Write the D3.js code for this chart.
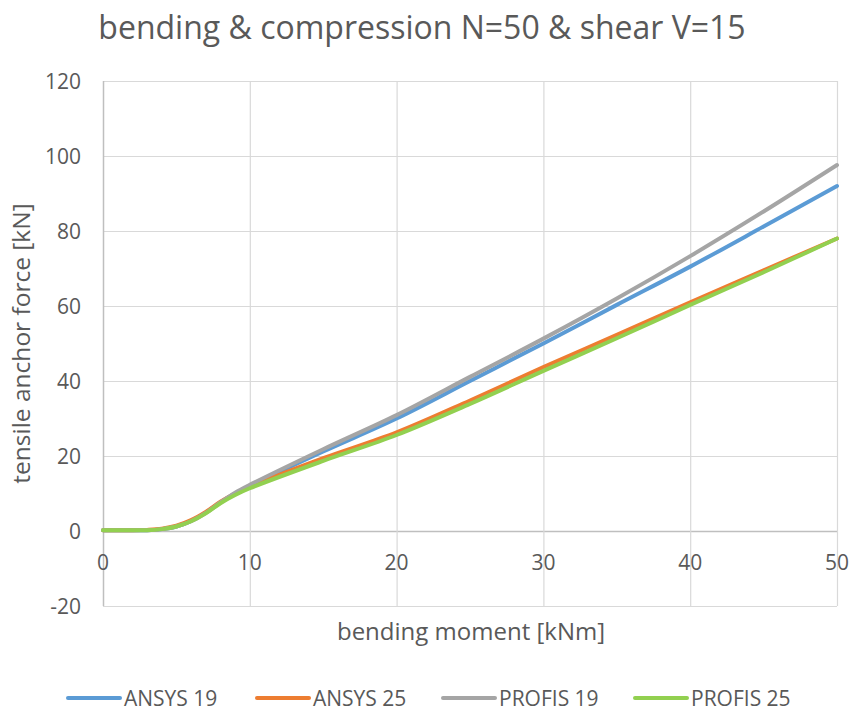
<!DOCTYPE html>
<html>
<head>
<meta charset="utf-8">
<script src="https://cdn.jsdelivr.net/npm/d3@7"></script>
<style>
  html, body { margin: 0; padding: 0; background: #fff; }
  svg { display: block; }
  text { font-family: "Open Sans", "Liberation Sans", sans-serif; fill: #595959; }
</style>
</head>
<body>
<svg id="chart" width="851" height="713"></svg>
<script>
const titleText = "bending & compression N=50 & shear V=15";
const xTitle = "bending moment [kNm]";
const yTitle = "tensile anchor force [kN]";

const moments = [0, 1, 2, 3, 4, 5, 6, 7, 8, 9, 10, 15, 20, 25, 30, 35, 40, 45, 50];
const ansys19  = [0.2, 0.2, 0.2, 0.2, 0.5, 1.2, 2.7, 4.9, 7.6, 10.0, 12.0, 21.2, 30.0, 40.0, 50.0, 60.3, 70.5, 81.2, 92.0];
const ansys25  = [0.2, 0.2, 0.2, 0.3, 0.6, 1.4, 2.9, 5.1, 7.8, 10.0, 11.8, 19.4, 26.3, 34.8, 43.7, 52.3, 61.0, 69.5, 78.0];
const profis19 = [0.2, 0.2, 0.2, 0.2, 0.5, 1.2, 2.6, 4.8, 7.6, 10.2, 12.3, 21.8, 30.9, 41.1, 51.3, 62.0, 73.3, 85.2, 97.6];
const profis25 = [0.2, 0.2, 0.2, 0.2, 0.5, 1.2, 2.6, 4.7, 7.4, 9.6, 11.4, 18.7, 25.6, 33.9, 42.7, 51.4, 60.3, 69.0, 78.0];

const seriesNames = ["ANSYS 19", "ANSYS 25", "PROFIS 19", "PROFIS 25"];
const seriesValues = [ansys19, ansys25, profis19, profis25];
const seriesColors = ["#5B9BD5", "#ED7D31", "#A5A5A5", "#92D050"];

const xTicks = [0, 10, 20, 30, 40, 50];
const yTicks = [-20, 0, 20, 40, 60, 80, 100, 120];

const svg = d3.select("#chart");
const plot = { left: 103, right: 837, top: 81, bottom: 606 };

const x = d3.scaleLinear().domain([0, 50]).range([plot.left, plot.right]);
const y = d3.scaleLinear().domain([-20, 120]).range([plot.bottom, plot.top]);

// gridlines
const g = svg.append("g");
g.selectAll(".hgrid").data(yTicks).enter().append("line")
  .attr("x1", plot.left).attr("x2", plot.right)
  .attr("y1", d => y(d) + 0.5).attr("y2", d => y(d) + 0.5)
  .attr("stroke", d => d === 0 ? "#BFBFBF" : "#D9D9D9").attr("stroke-width", d => d === 0 ? 1.5 : 1.2);
g.selectAll(".vgrid").data(xTicks).enter().append("line")
  .attr("y1", plot.top).attr("y2", plot.bottom)
  .attr("x1", d => x(d) + 0.5).attr("x2", d => x(d) + 0.5)
  .attr("stroke", d => d === 0 ? "#BFBFBF" : "#D9D9D9").attr("stroke-width", d => d === 0 ? 1.5 : 1.2);

// tick labels
g.selectAll(".ylab").data(yTicks).enter().append("text")
  .attr("x", 81).attr("y", d => y(d)).attr("dy", "0.36em")
  .attr("text-anchor", "end").attr("font-size", 21)
  .text(d => d);
g.selectAll(".xlab").data(xTicks).enter().append("text")
  .attr("x", d => x(d)).attr("y", 570)
  .attr("text-anchor", "middle").attr("font-size", 21)
  .text(d => d);

// lines
const line = d3.line().x(d => x(d[0])).y(d => y(d[1])).curve(d3.curveCatmullRom.alpha(0.5));
seriesValues.forEach((vals, i) => {
  svg.append("path")
    .datum(moments.map((m, j) => [m, vals[j]]))
    .attr("fill", "none")
    .attr("stroke", seriesColors[i])
    .attr("stroke-width", 4)
    .attr("stroke-linecap", "round")
    .attr("stroke-linejoin", "round")
    .attr("d", line);
});

// titles
svg.append("text").attr("x", 422).attr("y", 39).attr("text-anchor", "middle")
  .attr("font-size", 32).text(titleText);
svg.append("text").attr("x", 471).attr("y", 640).attr("text-anchor", "middle")
  .attr("font-size", 24).text(xTitle);
svg.append("text").attr("transform", "translate(30,343.5) rotate(-90)").attr("text-anchor", "middle")
  .attr("font-size", 24.5).text(yTitle);

// legend
const legendX = [68, 257, 443, 635];
const lg = svg.append("g");
seriesNames.forEach((name, i) => {
  lg.append("line").attr("x1", legendX[i]).attr("x2", legendX[i] + 52)
    .attr("y1", 698).attr("y2", 698)
    .attr("stroke", seriesColors[i]).attr("stroke-width", 4).attr("stroke-linecap", "round");
  lg.append("text").attr("x", legendX[i] + 56).attr("y", 698).attr("dy", "0.36em")
    .attr("font-size", 21).text(name);
});
</script>
</body>
</html>
